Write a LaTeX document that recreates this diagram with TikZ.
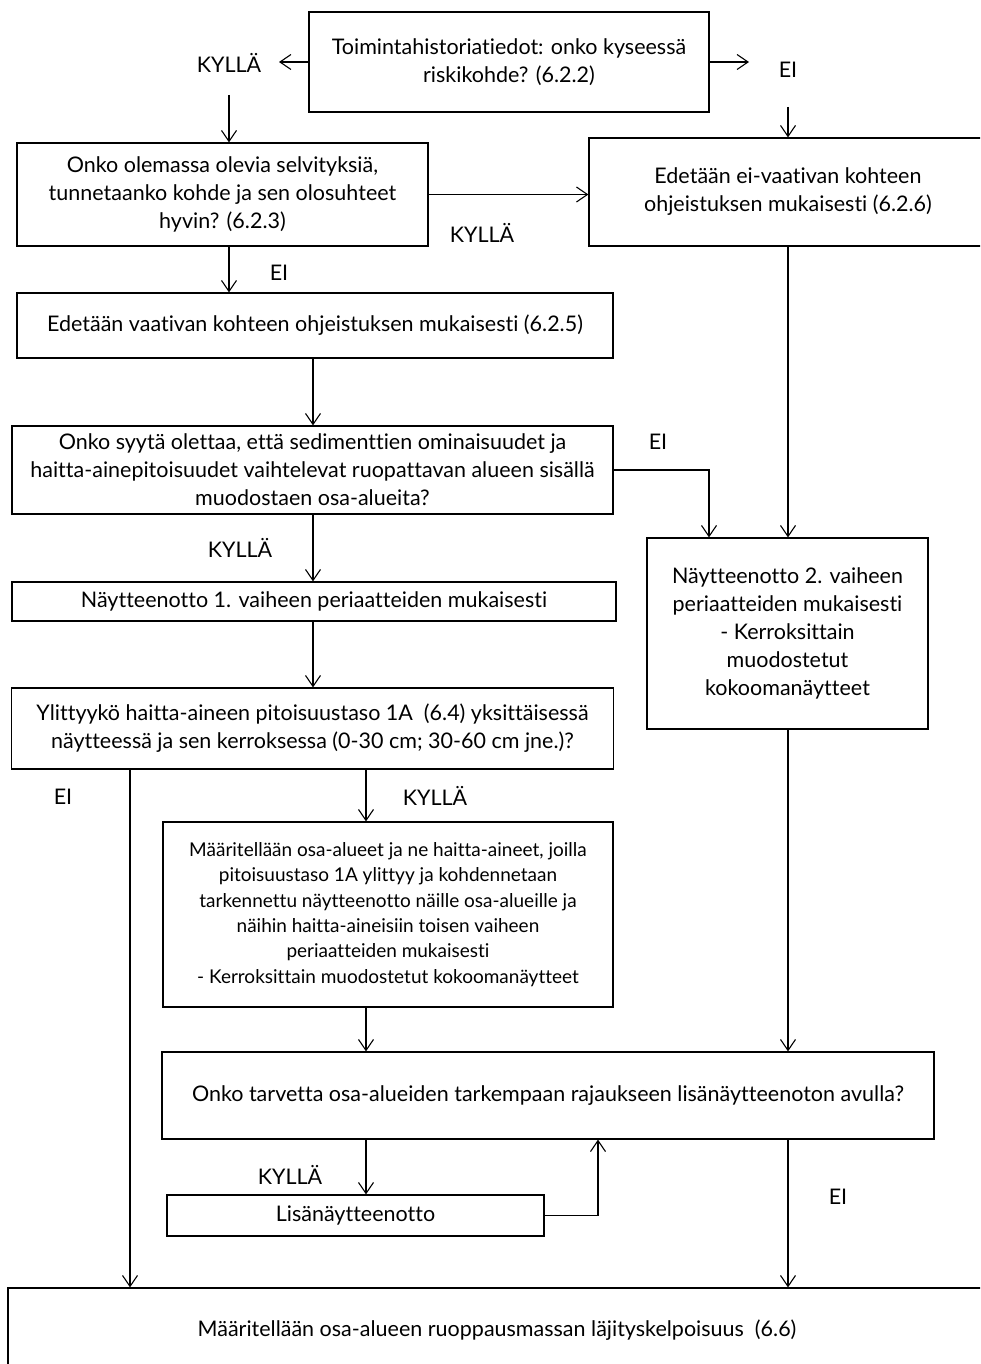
\documentclass[tikz,border=0pt]{standalone}
\usepackage{fontspec}
\setmainfont{Lato}[Ligatures=NoCommon]
\usetikzlibrary{arrows.meta,positioning,calc}

\begin{document}
\begin{tikzpicture}[x=1pt,y=-1pt,
    n/.style={draw,line width=1.2pt,align=center,inner sep=0pt,font=\fontsize{21.5}{28}\selectfont},
    a/.style={-{Straight Barb[length=11pt,width=15pt]},line width=1.1pt},
    lb/.style={inner sep=0pt,font=\fontsize{21.5}{24}\selectfont}]
    \clip (0,0) rectangle (980,1364);
    % columns for the vertical connectors
    \coordinate (c0) at (130,0);
    \coordinate (c2) at (313,0);
    \coordinate (c3) at (366,0);
    \coordinate (c4) at (709,0);
    \coordinate (c6) at (598,0);
    \coordinate (s0) at (229,95);
    \coordinate (s1) at (788,107);
    \coordinate (t0) at (279,62);
    \coordinate (t1) at (749,62);
    % boxes
    \node[n,minimum width=400,minimum height=100] (top) at (509,62) {Toimintahistoriatiedot: onko kyseessä\\riskikohde? (6.2.2)};
    \node[n,minimum width=411,minimum height=103] (sel) at (222.5,194.5) {Onko olemassa olevia selvityksiä,\\tunnetaanko kohde ja sen olosuhteet\\hyvin? (6.2.3)};
    \node[n,minimum width=398,minimum height=108] (ev) at (788,192) {Edetään ei-vaativan kohteen\\ohjeistuksen mukaisesti (6.2.6)};
    \node[n,minimum width=596,minimum height=65] (vaat) at (315,325.5) {Edetään vaativan kohteen ohjeistuksen mukaisesti (6.2.5)};
    \node[n,minimum width=601,minimum height=88] (syy) at (312.5,470) {Onko syytä olettaa, että sedimenttien ominaisuudet ja\\haitta-ainepitoisuudet vaihtelevat ruopattavan alueen sisällä\\muodostaen osa-alueita?};
    \node[n,minimum width=281,minimum height=191] (n2) at (787.5,633.5) {Näytteenotto 2. vaiheen\\periaatteiden mukaisesti\\- Kerroksittain\\muodostetut\\kokoomanäytteet};
    \node[n,minimum width=604,minimum height=39] (n1) at (314,601.5) {Näytteenotto 1. vaiheen periaatteiden mukaisesti};
    \node[n,minimum width=602,minimum height=81] (ylit) at (312.5,728.5) {Ylittyykö haitta-aineen pitoisuustaso 1A~ (6.4) yksittäisessä\\näytteessä ja sen kerroksessa (0-30 cm; 30-60 cm jne.)?};
    \node[n,minimum width=450,minimum height=185,font=\fontsize{19}{25.4}\selectfont] (maar) at (388,914.5) {Määritellään osa-alueet ja ne haitta-aineet, joilla\\pitoisuustaso 1A ylittyy ja kohdennetaan\\tarkennettu näytteenotto näille osa-alueille ja\\näihin haitta-aineisiin toisen vaiheen\\periaatteiden mukaisesti\\- Kerroksittain muodostetut kokoomanäytteet};
    \node[n,minimum width=772,minimum height=87] (tarve) at (548,1095.5) {Onko tarvetta osa-alueiden tarkempaan rajaukseen lisänäytteenoton avulla?};
    \node[n,minimum width=377,minimum height=41] (lisa) at (355.5,1215.5) {Lisänäytteenotto};
    \node[n,minimum width=978,minimum height=84] (fin) at (497,1330) {Määritellään osa-alueen ruoppausmassan läjityskelpoisuus~ (6.6)};
    % answers
    \node[lb] (k1) at (229,63) {KYLLÄ};
    \node[lb] (e1) at (788,70) {EI};
    \node[lb] (k2) at (482,233) {KYLLÄ};
    \node[lb] (e2) at (279,273) {EI};
    \node[lb] (e3) at (658,442) {EI};
    \node[lb] (k3) at (240,548) {KYLLÄ};
    \node[lb] (e4) at (63,797) {EI};
    \node[lb] (k4) at (435,796) {KYLLÄ};
    \node[lb] (k5) at (290,1175) {KYLLÄ};
    \node[lb] (e5) at (838,1197) {EI};
    % connectors
    \draw[a] (top.west) -- (t0);
    \draw[a] (top.east) -- (t1);
    \draw[a] (s0) -- (s0 |- sel.north);
    \draw[a] (s1) -- (s1 |- ev.north);
    \draw[a] (sel.east) -- (sel.east -| ev.west);
    \draw[a] (sel.south -| s0) -- (vaat.north -| s0);
    \draw[a] (vaat.south -| c2) -- (syy.north -| c2);
    \draw[a] (syy.south -| c2) -- (n1.north -| c2);
    \draw[a] (n1.south -| c2) -- (ylit.north -| c2);
    \draw[a] (syy.east) -| (n2.north -| c4);
    \draw[a] (ev.south) -- (ev.south |- n2.north);
    \draw[a] (ylit.south -| c0) -- (fin.north -| c0);
    \draw[a] (ylit.south -| c3) -- (maar.north -| c3);
    \draw[a] (maar.south -| c3) -- (tarve.north -| c3);
    \draw[a] (n2.south -| s1) -- (tarve.north -| s1);
    \draw[a] (tarve.south -| c3) -- (lisa.north -| c3);
    \draw[a] (lisa.east) -| (tarve.south -| c6);
    \draw[a] (tarve.south -| s1) -- (fin.north -| s1);
  \end{tikzpicture}
\end{document}
